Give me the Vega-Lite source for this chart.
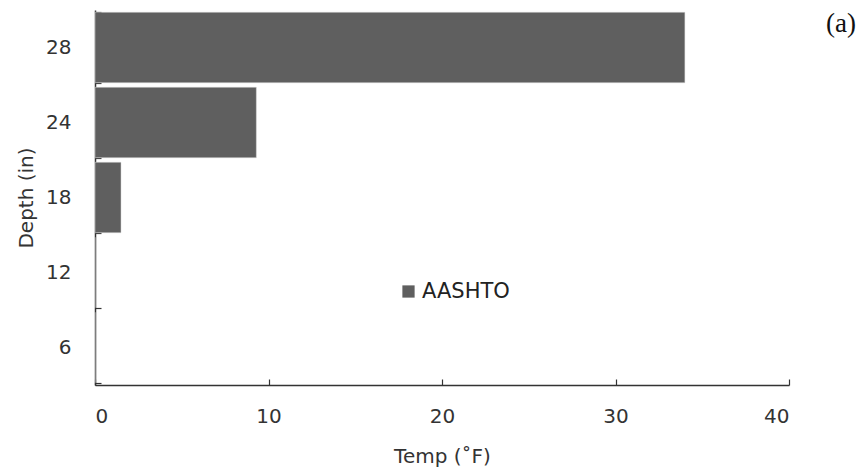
{
  "$schema": "https://vega.github.io/schema/vega-lite/v6.json",
  "autosize": "none",
  "width": 694,
  "height": 375,
  "padding": {"left": 95, "top": 10, "right": 71, "bottom": 91},
  "background": "white",
  "config": {
    "view": {"stroke": null},
    "font": "DejaVu Sans",
    "axis": {"domainColor": "#333333", "tickColor": "#333333", "labelColor": "#333333", "titleColor": "#333333", "grid": false, "labelFont": "DejaVu Sans", "titleFont": "DejaVu Sans", "titleFontWeight": "normal"}
  },
  "title": {
    "text": "(a)",
    "orient": "top",
    "anchor": "end",
    "frame": "group",
    "font": "Liberation Serif",
    "fontSize": 27,
    "fontWeight": "normal",
    "color": "#111111",
    "dx": 67,
    "offset": -38
  },
  "data": {
    "values": [
      {"depth": "28", "temp": 34, "series": "AASHTO"},
      {"depth": "24", "temp": 9.3, "series": "AASHTO"},
      {"depth": "18", "temp": 1.5, "series": "AASHTO"},
      {"depth": "12", "temp": 0, "series": "AASHTO"},
      {"depth": "6", "temp": 0, "series": "AASHTO"}
    ]
  },
  "mark": {"type": "bar", "stroke": "#dddddd", "strokeWidth": 0.5},
  "encoding": {
    "y": {
      "field": "depth",
      "type": "ordinal",
      "sort": ["28", "24", "18", "12", "6"],
      "scale": {"paddingInner": 0.06, "paddingOuter": 0.03},
      "axis": {
        "title": "Depth (in)",
        "titleFontSize": 20,
        "titlePadding": 9,
        "labelFontSize": 20,
        "labelPadding": 30,
        "tickBand": "extent",
        "tickSize": -6,
        "labelAngle": 0,
        "domainWidth": 1.5,
        "tickWidth": 1.2
      }
    },
    "x": {
      "field": "temp",
      "type": "quantitative",
      "scale": {"domain": [0, 40], "nice": false},
      "axis": {
        "title": "Temp (˚F)",
        "titleFontSize": 20,
        "titlePadding": 20,
        "labelFontSize": 20,
        "labelPadding": 27,
        "values": [0, 10, 20, 30, 40],
        "tickSize": -6,
        "domainWidth": 1.5,
        "tickWidth": 1.2
      }
    },
    "color": {
      "field": "series",
      "type": "nominal",
      "scale": {"range": ["#5f5f5f"]},
      "legend": {
        "title": null,
        "orient": "none",
        "legendX": 303,
        "legendY": 271,
        "symbolType": "square",
        "symbolSize": 150,
        "symbolStrokeWidth": 0,
        "labelFontSize": 21,
        "labelFont": "DejaVu Sans",
        "labelColor": "#222222",
        "labelOffset": 3
      }
    }
  }
}
